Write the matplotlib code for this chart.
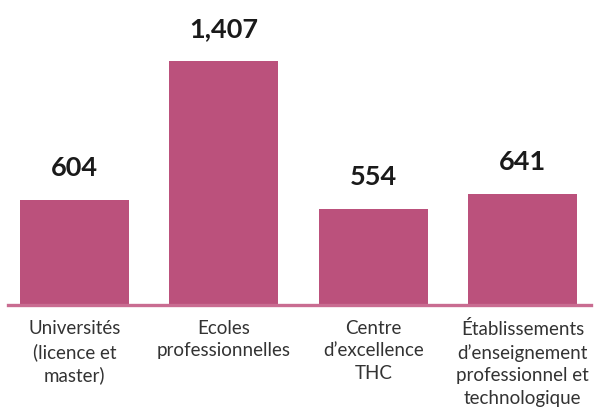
import matplotlib
matplotlib.use("Agg")
from matplotlib import pyplot as plt

# data
categories = ["Universités\n(licence et\nmaster)",
              "Ecoles\nprofessionnelles",
              "Centre\nd’excellence\nTHC",
              "Établissements\nd’enseignement\nprofessionnel et\ntechnologique"]
values = [604, 1407, 554, 641]
value_labels = ["604", "1,407", "554", "641"]

bar_color = "#BB517C"
line_color = "#C96C91"

fig = plt.figure(figsize=(6, 4.1), dpi=100)
ax = fig.add_axes([8/600, 104/410, 583/600, 296/410])

pos = list(range(len(values)))
ax.bar(pos, values, width=0.73, color=bar_color, zorder=2)
ax.axhline(0, color=line_color, linewidth=2.4, zorder=3, clip_on=False)

for x, v, lab in zip(pos, values, value_labels):
    ax.annotate(lab, (x, v), xytext=(0, 15), textcoords="offset points",
                ha="center", va="bottom", fontsize=19.5, fontweight="bold",
                family=["Lato", "DejaVu Sans"], color="#1a1a1a")

for x, lab in zip(pos, categories):
    ax.annotate(lab, (x, 0), xytext=(0, -10), textcoords="offset points",
                ha="center", va="top", fontsize=13.5, fontweight="normal",
                family=["Lato", "DejaVu Sans"], color="#333333",
                linespacing=1.4)

ax.set_xlim(-0.445, 3.458)
ax.set_ylim(0, 1707)
ax.axis("off")

fig.savefig("out.png", dpi=100)
